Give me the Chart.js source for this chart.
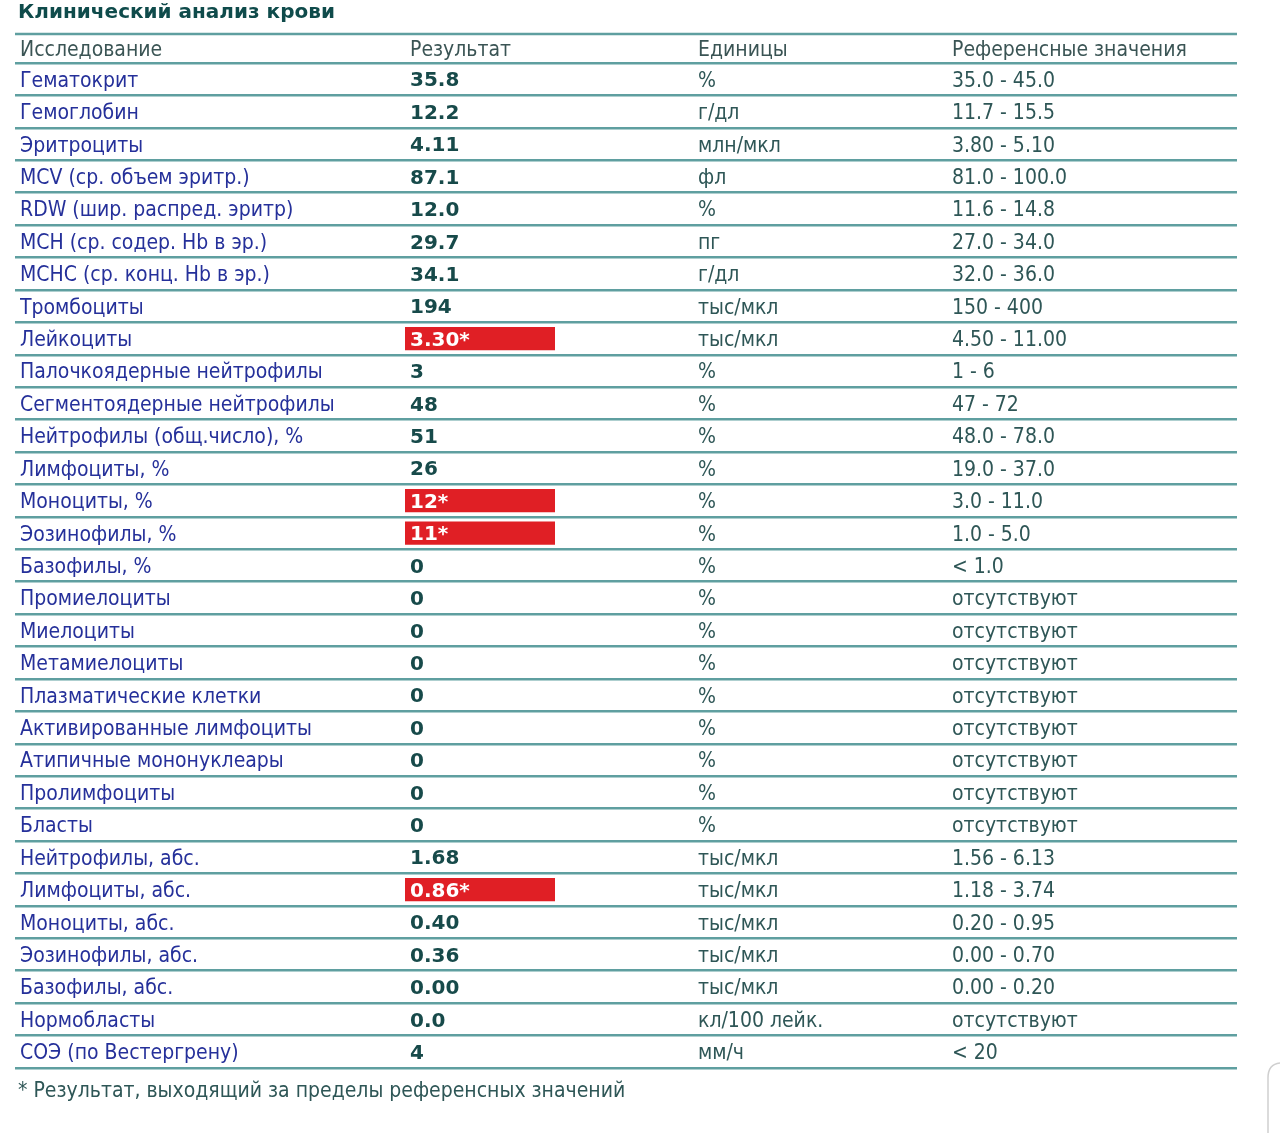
<!DOCTYPE html>
<html lang="ru">
<head>
<meta charset="utf-8">
<script src="https://cdn.jsdelivr.net/npm/chart.js@4.4.1/dist/chart.umd.min.js"></script>
<style>
  html, body { margin: 0; padding: 0; background: #ffffff; }
  #wrap { width: 1280px; height: 1133px; position: relative; }
</style>
</head>
<body>
<div id="wrap"><canvas id="c"></canvas></div>
<script>
const title = 'Клинический анализ крови';
const headers = ['Исследование', 'Результат', 'Единицы', 'Референсные значения'];
const footnote = '* Результат, выходящий за пределы референсных значений';

const tests = [
  'Гематокрит', 'Гемоглобин', 'Эритроциты', 'MCV (ср. объем эритр.)',
  'RDW (шир. распред. эритр)', 'MCH (ср. содер. Hb в эр.)', 'MCHC (ср. конц. Hb в эр.)',
  'Тромбоциты', 'Лейкоциты', 'Палочкоядерные нейтрофилы', 'Сегментоядерные нейтрофилы',
  'Нейтрофилы (общ.число), %', 'Лимфоциты, %', 'Моноциты, %', 'Эозинофилы, %',
  'Базофилы, %', 'Промиелоциты', 'Миелоциты', 'Метамиелоциты', 'Плазматические клетки',
  'Активированные лимфоциты', 'Атипичные мононуклеары', 'Пролимфоциты', 'Бласты',
  'Нейтрофилы, абс.', 'Лимфоциты, абс.', 'Моноциты, абс.', 'Эозинофилы, абс.',
  'Базофилы, абс.', 'Нормобласты', 'СОЭ (по Вестергрену)'
];
const results = [
  '35.8', '12.2', '4.11', '87.1', '12.0', '29.7', '34.1', '194', '3.30*', '3', '48',
  '51', '26', '12*', '11*', '0', '0', '0', '0', '0', '0', '0', '0', '0',
  '1.68', '0.86*', '0.40', '0.36', '0.00', '0.0', '4'
];
const units = [
  '%', 'г/дл', 'млн/мкл', 'фл', '%', 'пг', 'г/дл', 'тыс/мкл', 'тыс/мкл', '%', '%',
  '%', '%', '%', '%', '%', '%', '%', '%', '%', '%', '%', '%', '%',
  'тыс/мкл', 'тыс/мкл', 'тыс/мкл', 'тыс/мкл', 'тыс/мкл', 'кл/100 лейк.', 'мм/ч'
];
const refs = [
  '35.0 - 45.0', '11.7 - 15.5', '3.80 - 5.10', '81.0 - 100.0', '11.6 - 14.8',
  '27.0 - 34.0', '32.0 - 36.0', '150 - 400', '4.50 - 11.00', '1 - 6', '47 - 72',
  '48.0 - 78.0', '19.0 - 37.0', '3.0 - 11.0', '1.0 - 5.0', '< 1.0',
  'отсутствуют', 'отсутствуют', 'отсутствуют', 'отсутствуют',
  'отсутствуют', 'отсутствуют', 'отсутствуют', 'отсутствуют',
  '1.56 - 6.13', '1.18 - 3.74', '0.20 - 0.95', '0.00 - 0.70', '0.00 - 0.20',
  'отсутствуют', '< 20'
];
const outOfRange = results.map(r => r.endsWith('*'));

// layout / style configuration (column anchors in x-scale units)
const COL = { highlightFrom: 5, highlightTo: 155, result: 10, unit: 298, ref: 552 };
const FONT = '"DejaVu Sans Condensed", "DejaVu Sans"';
const FONT_B = '"DejaVu Sans"';
const C = {
  line: '#5f9fa0', name: '#25309a', result: '#174a4a', text: '#2e5656',
  head: '#3a5454', title: '#0f4b4b', red: '#e01f25'
};

const tablePlugin = {
  id: 'tableText',
  afterDatasetsDraw(chart) {
    const ctx = chart.ctx;
    const x = chart.scales.x, y = chart.scales.y;
    const left = y.left - 5, right = chart.chartArea.right;
    ctx.save();
    // title
    ctx.textBaseline = 'middle';
    ctx.textAlign = 'left';
    ctx.fillStyle = C.title;
    ctx.font = 'bold 20px ' + FONT_B;
    ctx.fillText(title, 18, 13);
    // top line of header
    const topLine = chart.chartArea.top - 29;
    ctx.strokeStyle = C.line;
    ctx.lineWidth = 2.5;
    ctx.beginPath();
    ctx.moveTo(left, topLine);
    ctx.lineTo(right, topLine);
    ctx.stroke();
    // header
    const hy = chart.chartArea.top - 12;
    ctx.font = '21px ' + FONT;
    ctx.fillStyle = C.head;
    ctx.fillText(headers[0], y.left, hy);
    ctx.fillText(headers[1], x.getPixelForValue(COL.result), hy);
    ctx.fillText(headers[2], x.getPixelForValue(COL.unit), hy);
    ctx.fillText(headers[3], x.getPixelForValue(COL.ref), hy);
    // rows
    tests.forEach((t, i) => {
      const py = y.getPixelForValue(i) + 2;
      ctx.font = 'bold 20px ' + FONT_B;
      ctx.fillStyle = outOfRange[i] ? '#ffffff' : C.result;
      ctx.fillText(results[i], x.getPixelForValue(COL.result), py);
      ctx.font = '21px ' + FONT;
      ctx.fillStyle = C.text;
      ctx.fillText(units[i], x.getPixelForValue(COL.unit), py);
      ctx.fillText(refs[i], x.getPixelForValue(COL.ref), py);
    });
    // footnote
    ctx.fillStyle = C.text;
    ctx.font = '21px ' + FONT;
    ctx.fillText(footnote, 18, chart.chartArea.bottom + 24);
    // page edge decoration (bottom-right)
    ctx.strokeStyle = '#cfcfcf';
    ctx.lineWidth = 1.5;
    ctx.beginPath();
    ctx.moveTo(1268, 1133);
    ctx.lineTo(1268, 1078);
    ctx.quadraticCurveTo(1268, 1064, 1280, 1063);
    ctx.stroke();
    ctx.restore();
  }
};

new Chart(document.getElementById('c'), {
  type: 'bar',
  data: {
    labels: tests,
    datasets: [{
      label: 'вне референса',
      data: outOfRange.map(f => f ? [COL.highlightFrom, COL.highlightTo] : null),
      backgroundColor: C.red,
      borderWidth: 0,
      barPercentage: 0.9,
      categoryPercentage: 0.8
    }]
  },
  options: {
    indexAxis: 'y',
    responsive: true,
    maintainAspectRatio: false,
    animation: false,
    layout: { padding: { top: 63, bottom: 65, left: 20, right: 43 } },
    plugins: { legend: { display: false }, tooltip: { enabled: false } },
    scales: {
      x: { type: 'linear', min: 0, max: 837, display: false },
      y: {
        type: 'category',
        labels: tests,
        offset: true,
        afterFit(s) { s.width = 380; },
        border: { display: false },
        grid: { offset: true, color: C.line, lineWidth: 2.5, tickLength: 385, drawTicks: true },
        ticks: {
          autoSkip: false, crossAlign: 'far', padding: 0, labelOffset: 2,
          color: C.name, font: { family: FONT, size: 21 }
        }
      }
    }
  },
  plugins: [tablePlugin]
});
</script>
</body>
</html>
